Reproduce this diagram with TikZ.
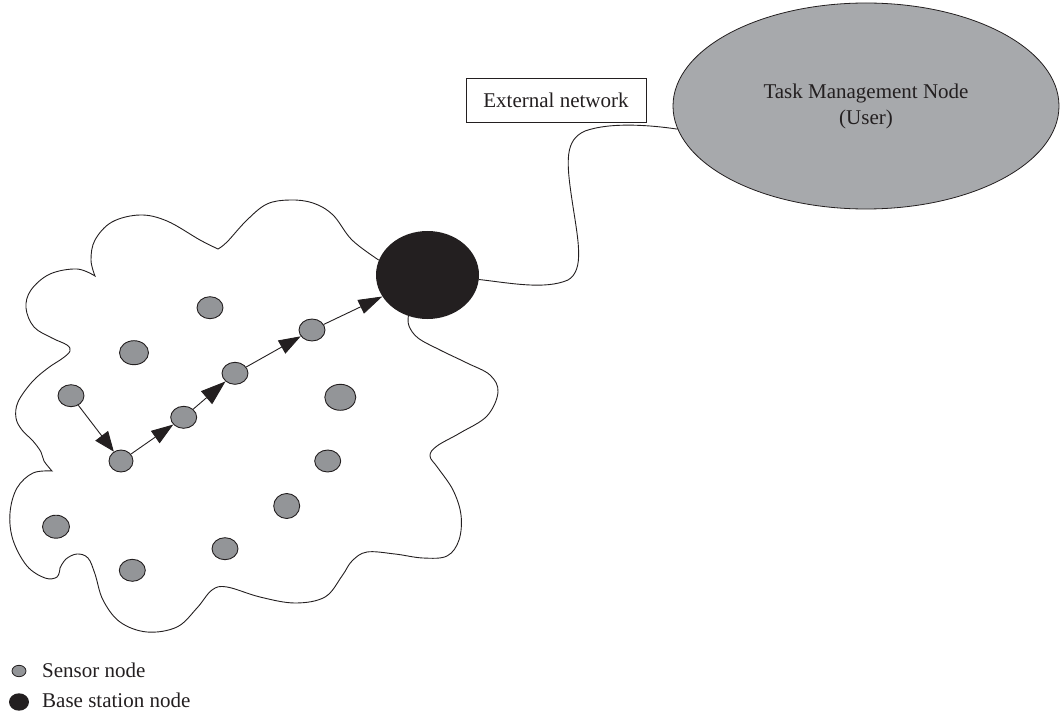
\documentclass[tikz,border=0pt]{standalone}
\usepackage{fontspec}
\setmainfont{Liberation Serif}
\usetikzlibrary{shapes.geometric,arrows.meta}
\definecolor{sensorgray}{HTML}{939598}
\definecolor{taskgray}{HTML}{A7A9AC}
\definecolor{inkblack}{HTML}{231F20}
\tikzset{
  sensor/.style={ellipse, draw=inkblack, line width=0.9pt, fill=sensorgray,
    minimum width=26pt, minimum height=22pt, inner sep=0pt},
  basestation/.style={ellipse, fill=inkblack, draw=none,
    minimum width=103pt, minimum height=88pt, inner sep=0pt},
  hop/.style={draw=inkblack, line width=0.9pt, -{Triangle[length=22pt,width=15pt]}},
  wire/.style={draw=inkblack, line width=0.9pt},
  labeltext/.style={font=\fontsize{21}{26}\selectfont, text=inkblack},
}
\begin{document}
\begin{tikzpicture}[x=1pt,y=-1pt]
\useasboundingbox (0,0) rectangle (1060,714);

% task management node and the external network label
\node[ellipse, draw=inkblack, line width=0.8pt, fill=taskgray,
      minimum width=386pt, minimum height=206pt, inner sep=0pt,
      labeltext, align=center] (task) at (866,106)
      {Task Management Node\\(User)};
\node[draw=inkblack, line width=0.8pt, fill=white, minimum width=180pt,
      minimum height=44pt, inner sep=0pt, labeltext] (ext) at (556,100)
      {External network};

% base station
\node[basestation] (bs) at (427.5,275) {};

% sensor nodes
\node[sensor] (s1) at (210,307.7) {};
\node[sensor, minimum width=29pt, minimum height=24pt] (s2) at (134,352.7) {};
\node[sensor] (s3) at (71,395.7) {};
\node[sensor, minimum width=24pt] (s4) at (121,461) {};
\node[sensor] (s5) at (183.7,417.3) {};
\node[sensor] (s6) at (235,373.3) {};
\node[sensor] (s7) at (312,330) {};
\node[sensor, minimum width=31pt, minimum height=26pt] (s8) at (340.3,397.3) {};
\node[sensor] (s9) at (327.7,461) {};
\node[sensor, minimum height=25pt] (s10) at (286.7,506) {};
\node[sensor] (s11) at (225,548.7) {};
\node[sensor] (s12) at (132.3,570.3) {};
\node[sensor, minimum width=27pt, minimum height=23pt] (s13) at (56,526.7) {};

% multi-hop route towards the base station
\draw[hop, -{Triangle[length=20pt,width=16pt]}] (s3) -- (s4);
\draw[hop] (s4) -- (s5);
\draw[hop, -{Triangle[length=25pt,width=17pt]}] (s5) -- (s6);
\draw[hop] (s6) -- (s7);
\draw[hop, -{Triangle[length=24pt,width=15pt]}] (s7) -- (bs);

% link from the base station to the task management node
\draw[wire] (bs.-5) .. controls (510,283) and (545,290) .. (568,280)
  .. controls (585,270) and (578,240) .. (572,200)
  .. controls (566,160) and (565,140) .. (585,131)
  .. controls (610,122) and (650,125) .. (task.187);

% boundary of the sensor field
\draw[wire]
  plot[smooth, tension=0.6] coordinates {(bs.163) (352,240) (333,215) (313,203)
    (290,200) (267,204) (247,220) (227,242) (218,249)}
  -- plot[smooth, tension=0.6] coordinates {(218,249) (200,240) (167,221)
    (140,215) (112,222) (95,240) (91,260) (95,276)}
  -- plot[smooth, tension=0.6] coordinates {(95,276) (77,269) (50,274) (31,290)
    (26,308) (34,327) (52,338) (67,345) (70,351) (63,358) (48,368) (32,382)
    (18,402) (16,418) (22,430) (33,441) (41,452) (44,461) (52,471)}
  -- plot[smooth, tension=0.6] coordinates {(52,471) (33,473) (17,488) (10,513)
    (13,540) (27,566) (45,578) (57,577) (60,568)}
  -- plot[smooth, tension=0.6] coordinates {(60,568) (66,559) (77,554) (88,558)
    (95,574) (103,600) (120,622) (147,632) (177,627) (197,608) (212,590)
    (227,587) (260,597) (295,603) (325,597) (342,576) (352,561) (367,552)
    (395,554) (423,558) (447,556) (459,540) (461,515) (453,490) (438,468)
    (430,456) (437,446) (460,433) (487,416) (498,392) (490,375) (467,363)
    (440,350) (418,338) (409,326) (bs.245)};

% legend
\node[sensor, line width=0.8pt, minimum width=14pt, minimum height=11.4pt]
  (legsensor) at (19,671) {};
\node[ellipse, fill=inkblack, minimum width=20pt, minimum height=17.4pt,
  inner sep=0pt] (legbs) at (19,702) {};
\node[labeltext, anchor=base west, inner sep=0pt] (legsensortext) at (42,677)
  {Sensor node};
\node[labeltext, anchor=base west, inner sep=0pt] (legbstext) at (42,707)
  {Base station node};
\end{tikzpicture}
\end{document}
